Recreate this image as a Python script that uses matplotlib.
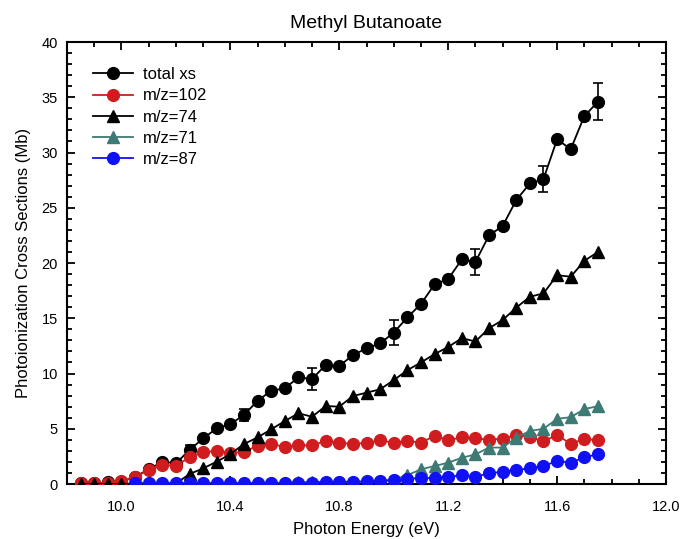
import numpy as np
import matplotlib
matplotlib.use("Agg")
import matplotlib.pyplot as plt
from matplotlib.ticker import MultipleLocator

plt.rcParams['font.family'] = ['Liberation Sans', 'DejaVu Sans']

energy = [9.85, 9.90, 9.95, 10.00, 10.05, 10.10, 10.15, 10.20, 10.25, 10.30,
          10.35, 10.40, 10.45, 10.50, 10.55, 10.60, 10.65, 10.70, 10.75, 10.80,
          10.85, 10.90, 10.95, 11.00, 11.05, 11.10, 11.15, 11.20, 11.25, 11.30,
          11.35, 11.40, 11.45, 11.50, 11.55, 11.60, 11.65, 11.70, 11.75]

total_xs = [0.05, 0.05, 0.15, 0.2, 0.66, 1.33, 2.02, 1.87, 3.08, 4.13,
            5.04, 5.43, 6.24, 7.54, 8.44, 8.66, 9.65, 9.5, 10.77, 10.68,
            11.67, 12.28, 12.73, 13.7, 15.08, 16.3, 18.07, 18.55, 20.33, 20.1,
            22.5, 23.35, 25.7, 27.2, 27.6, 31.2, 30.3, 33.3, 34.6]
total_err_x = [10.25, 10.45, 10.70, 11.00, 11.30, 11.55, 11.75]
total_err_y = [3.08, 6.24, 9.5, 13.7, 20.1, 27.6, 34.6]
total_err = [0.42, 0.57, 1.0, 1.1, 1.2, 1.15, 1.7]

mz102 = [0.05, 0.05, 0.1, 0.3, 0.6, 1.3, 1.72, 1.66, 2.41, 2.87,
         3.0, 2.83, 2.9, 3.47, 3.6, 3.38, 3.5, 3.5, 3.89, 3.74,
         3.62, 3.74, 3.95, 3.74, 3.92, 3.74, 4.37, 3.98, 4.22, 4.13,
         4.02, 4.1, 4.45, 4.25, 3.85, 4.45, 3.62, 4.1, 3.95]

mz74 = [0.0, 0.0, 0.0, 0.0, 0.0, 0.0, 0.05, 0.05, 0.9, 1.42,
        2.02, 2.71, 3.62, 4.22, 4.95, 5.7, 6.4, 6.09, 7.06, 7.0,
        7.96, 8.27, 8.57, 9.4, 10.3, 11.0, 11.76, 12.4, 13.2, 12.9,
        14.1, 14.84, 15.96, 16.95, 17.25, 18.9, 18.76, 20.2, 21.0]

energy_b = [10.05, 10.10, 10.15, 10.20, 10.25, 10.30, 10.35, 10.40, 10.45, 10.50,
            10.55, 10.60, 10.65, 10.70, 10.75, 10.80, 10.85, 10.90, 10.95, 11.00,
            11.05, 11.10, 11.15, 11.20, 11.25, 11.30, 11.35, 11.40, 11.45, 11.50,
            11.55, 11.60, 11.65, 11.70, 11.75]

mz71 = [0.1, 0.1, 0.1, 0.1, 0.1, 0.1, 0.1, 0.1, 0.1, 0.1,
        0.1, 0.1, 0.15, 0.2, 0.2, 0.2, 0.2, 0.2, 0.25, 0.4,
        0.8, 1.33, 1.63, 1.93, 2.38, 2.68, 3.3, 3.3, 4.2, 4.8,
        5.0, 5.9, 6.05, 6.78, 7.05]

mz87 = [0.05, 0.05, 0.05, 0.05, 0.05, 0.05, 0.05, 0.05, 0.05, 0.05,
        0.05, 0.05, 0.05, 0.1, 0.15, 0.2, 0.2, 0.25, 0.3, 0.35,
        0.45, 0.57, 0.52, 0.66, 0.78, 0.66, 0.96, 1.12, 1.27, 1.42,
        1.63, 2.08, 1.93, 2.41, 2.71]

xtick_vals = [10.0, 10.4, 10.8, 11.2, 11.6, 12.0]
xtick_labels = ['10.0', '10.4', '10.8', '11.2', '11.6', '12.0']

fig = plt.figure(figsize=(6.81, 5.39), dpi=100)
ax = fig.add_axes([0.0984, 0.102, 0.8796, 0.820])

ms = 8.5
lw = 1.3
ax.plot(energy, total_xs, '-o', color='black', ms=ms, lw=lw, label='total xs', zorder=3)
ax.errorbar(total_err_x, total_err_y, yerr=total_err, fmt='none', ecolor='black',
            elinewidth=1.2, capsize=3.5, capthick=1.2, zorder=3)
ax.plot(energy, mz102, '-o', color='#d01c1f', ms=ms, lw=lw, label='m/z=102', zorder=3)
ax.plot(energy, mz74, '-^', color='black', ms=ms, lw=lw, label='m/z=74', zorder=3)
ax.plot(energy_b, mz71, '-^', color='#3e7a74', ms=ms, lw=lw, label='m/z=71', zorder=3)
ax.plot(energy_b, mz87, '-o', color='#1010f5', ms=ms, lw=lw, label='m/z=87', zorder=3)

ax.set_xlim(9.8, 12.0)
ax.set_ylim(0, 40)
ax.xaxis.set_minor_locator(MultipleLocator(0.1))
ax.yaxis.set_major_locator(MultipleLocator(5))
ax.yaxis.set_minor_locator(MultipleLocator(1))
ax.set_xticks(xtick_vals)
ax.set_xticklabels(xtick_labels)
ax.tick_params(which='both', direction='in', top=True, right=True, labelsize=10.5, width=1.3)
ax.tick_params(which='major', length=6)
ax.tick_params(which='minor', length=3.5)
ax.tick_params(axis='x', which='major', pad=11.5)
ax.tick_params(axis='y', which='major', pad=6.5)
for s in ax.spines.values():
    s.set_linewidth(1.5)

ax.set_xlabel('Photon Energy (eV)', fontsize=12, labelpad=6)
ax.set_ylabel('Photoionization Cross Sections (Mb)', fontsize=12, labelpad=7.5)
ax.set_title('Methyl Butanoate', fontsize=14, pad=10)

ax.legend(loc='upper left', frameon=False, fontsize=12, handlelength=2.4,
          handletextpad=0.6, labelspacing=0.37, bbox_to_anchor=(0.032, 0.958),
          borderaxespad=0)

fig.savefig('out.png', dpi=100)
